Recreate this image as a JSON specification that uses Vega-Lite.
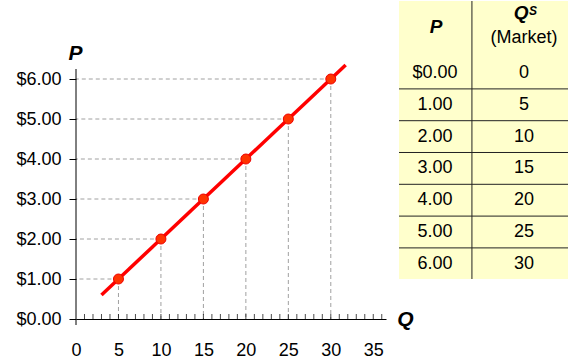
{
  "$schema": "https://vega.github.io/schema/vega-lite/v6.json",
  "padding": {"left": 15, "top": 0, "right": 0, "bottom": 0},
  "background": "white",
  "bounds": "flush",
  "spacing": 13,
  "config": {
    "view": {"stroke": null},
    "font": "Liberation Sans",
    "axis": {"labelFont": "Liberation Sans", "titleFont": "Liberation Sans", "labelColor": "black", "titleColor": "black"}
  },
  "datasets": {
    "supply": [
      {"P": 0, "Q": 0},
      {"P": 1, "Q": 5},
      {"P": 2, "Q": 10},
      {"P": 3, "Q": 15},
      {"P": 4, "Q": 20},
      {"P": 5, "Q": 25},
      {"P": 6, "Q": 30}
    ],
    "curve": [
      {"P": 0.6, "Q": 3},
      {"P": 6.35, "Q": 31.75}
    ],
    "minor": [
      {"t": 1}, {"t": 2}, {"t": 3}, {"t": 4}, {"t": 5}, {"t": 6}, {"t": 7}, {"t": 8}, {"t": 9},
      {"t": 10}, {"t": 11}, {"t": 12}, {"t": 13}, {"t": 14}, {"t": 15}, {"t": 16}, {"t": 17}, {"t": 18},
      {"t": 19}, {"t": 20}, {"t": 21}, {"t": 22}, {"t": 23}, {"t": 24}, {"t": 25}, {"t": 26}, {"t": 27},
      {"t": 28}, {"t": 29}, {"t": 30}, {"t": 31}, {"t": 32}, {"t": 33}, {"t": 34}, {"t": 35}, {"t": 36}
    ]
  },
  "hconcat": [
    {
      "width": 310,
      "height": 318,
      "layer": [
        {
          "data": {"name": "supply"},
          "transform": [{"filter": "datum.P > 0"}],
          "mark": {"type": "rule", "color": "#a0a0a0", "strokeWidth": 1, "strokeDash": [4, 3]},
          "encoding": {
            "x": {"field": "Q", "type": "quantitative",
              "scale": {"domain": [0, 36.5], "nice": false, "zero": false},
              "axis": {"title": "Q", "values": [0, 5, 10, 15, 20, 25, 30, 35], "ticks": false, "labelPadding": 22,
                "labelFontSize": 18, "domain": true, "domainColor": "black", "domainWidth": 1, "grid": false,
                "titleAngle": 0, "titleX": 329, "titleY": 0, "titleBaseline": "middle", "titleAlign": "center",
                "titleFontSize": 21, "titleFontWeight": "bold", "titleFontStyle": "italic", "labelFlush": false}},
            "x2": {"datum": 0},
            "y": {"field": "P", "type": "quantitative",
              "scale": {"domain": [0, 7.95], "nice": false, "zero": false},
              "axis": {"title": "P", "values": [0, 1, 2, 3, 4, 5, 6], "format": "$.2f", "tickSize": 7, "tickColor": "black",
                "labelPadding": 8, "labelFontSize": 18, "domain": false, "grid": false,
                "titleAngle": 0, "titleX": -1, "titleY": 52, "titleBaseline": "middle", "titleAlign": "center",
                "titleFontSize": 21, "titleFontWeight": "bold", "titleFontStyle": "italic"}}
          }
        },
        {
          "data": {"name": "supply"},
          "transform": [{"filter": "datum.P > 0"}],
          "mark": {"type": "rule", "color": "#a0a0a0", "strokeWidth": 1, "strokeDash": [4, 3]},
          "encoding": {
            "x": {"field": "Q", "type": "quantitative"},
            "y": {"field": "P", "type": "quantitative"},
            "y2": {"datum": 0}
          }
        },
        {
          "data": {"name": "minor"},
          "mark": {"type": "tick", "orient": "vertical", "color": "black", "size": 5, "thickness": 1, "yOffset": -2.5},
          "encoding": {
            "x": {"field": "t", "type": "quantitative"},
            "y": {"datum": 0, "type": "quantitative"}
          }
        },
        {
          "data": {"values": [{}]},
          "mark": {"type": "rule", "color": "black", "strokeWidth": 1},
          "encoding": {
            "x": {"datum": 0, "type": "quantitative"},
            "y": {"datum": -0.15, "type": "quantitative"},
            "y2": {"datum": 6.25}
          }
        },
        {
          "data": {"name": "curve"},
          "mark": {"type": "line", "color": "#ff0000", "strokeWidth": 3.5},
          "encoding": {
            "x": {"field": "Q", "type": "quantitative"},
            "y": {"field": "P", "type": "quantitative"}
          }
        },
        {
          "data": {"name": "supply"},
          "transform": [{"filter": "datum.P > 0"}],
          "mark": {"type": "point", "filled": true, "fill": "#ff3300", "stroke": "#ee0000", "strokeWidth": 1, "opacity": 1, "size": 100},
          "encoding": {
            "x": {"field": "Q", "type": "quantitative"},
            "y": {"field": "P", "type": "quantitative"}
          }
        }
      ]
    },
    {
      "width": 170,
      "height": 278,
      "view": {"fill": "#ffffcc", "stroke": null},
      "layer": [
        {
          "data": {"name": "supply"},
          "mark": {"type": "text", "fontSize": 18, "color": "black", "baseline": "middle", "align": "center"},
          "encoding": {
            "x": {"datum": 0.212, "type": "quantitative", "scale": {"domain": [0, 1], "nice": false, "zero": false}, "axis": null},
            "y": {"field": "P", "type": "quantitative",
              "scale": {"domain": [-2.264, 6.478], "nice": false, "zero": false, "reverse": true}, "axis": null},
            "text": {"condition": {"test": "datum.P == 0", "value": "$0.00"}, "field": "P", "type": "quantitative", "format": ".2f"}
          }
        },
        {
          "data": {"name": "supply"},
          "mark": {"type": "text", "fontSize": 18, "color": "black", "baseline": "middle", "align": "center"},
          "encoding": {
            "x": {"datum": 0.735, "type": "quantitative"},
            "y": {"field": "P", "type": "quantitative"},
            "text": {"field": "Q", "type": "quantitative"}
          }
        },
        {
          "data": {"name": "supply"},
          "transform": [{"filter": "datum.P < 6"}],
          "mark": {"type": "rule", "color": "#222222", "strokeWidth": 1, "yOffset": 15.9},
          "encoding": {
            "y": {"field": "P", "type": "quantitative"}
          }
        },
        {
          "data": {"values": [{}]},
          "mark": {"type": "rule", "color": "#222222", "strokeWidth": 1},
          "encoding": {
            "x": {"datum": 0.429, "type": "quantitative"}
          }
        },
        {
          "data": {"values": [{"h": "P"}]},
          "mark": {"type": "text", "fontSize": 19, "fontWeight": "bold", "fontStyle": "italic", "color": "black", "baseline": "middle", "align": "center"},
          "encoding": {
            "x": {"datum": 0.218, "type": "quantitative"},
            "y": {"datum": -1.446, "type": "quantitative"},
            "text": {"field": "h", "type": "nominal"}
          }
        },
        {
          "data": {"values": [{"h": "Q"}]},
          "mark": {"type": "text", "fontSize": 19, "fontWeight": "bold", "fontStyle": "italic", "color": "black", "baseline": "middle", "align": "center"},
          "encoding": {
            "x": {"datum": 0.718, "type": "quantitative"},
            "y": {"datum": -1.887, "type": "quantitative"},
            "text": {"field": "h", "type": "nominal"}
          }
        },
        {
          "data": {"values": [{"h": "S"}]},
          "mark": {"type": "text", "fontSize": 12, "fontWeight": "bold", "fontStyle": "italic", "color": "black", "baseline": "middle", "align": "center"},
          "encoding": {
            "x": {"datum": 0.788, "type": "quantitative"},
            "y": {"datum": -1.95, "type": "quantitative"},
            "text": {"field": "h", "type": "nominal"}
          }
        },
        {
          "data": {"values": [{"h": "(Market)"}]},
          "mark": {"type": "text", "fontSize": 18, "color": "black", "baseline": "middle", "align": "center"},
          "encoding": {
            "x": {"datum": 0.735, "type": "quantitative"},
            "y": {"datum": -1.10, "type": "quantitative"},
            "text": {"field": "h", "type": "nominal"}
          }
        }
      ]
    }
  ]
}
